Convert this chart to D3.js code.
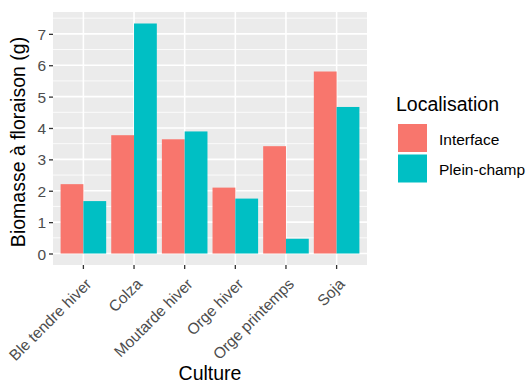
<!DOCTYPE html>
<html><head><meta charset="utf-8">
<script src="https://cdn.jsdelivr.net/npm/d3@7"></script>
<style>body{margin:0;background:#fff}text{font-family:"Liberation Sans",Arial,sans-serif}</style>
</head><body>
<svg id="c" width="532" height="385"></svg>
<script>
const categories = ["Ble tendre hiver","Colza","Moutarde hiver","Orge hiver","Orge printemps","Soja"];
const seriesNames = ["Interface","Plein-champ"];
const interfaceValues = [2.21, 3.77, 3.64, 2.10, 3.42, 5.80];
const pleinChampValues = [1.67, 7.33, 3.89, 1.75, 0.47, 4.67];
const yTicks = [0,1,2,3,4,5,6,7];
const colors = ["#F8766D","#00BFC4"];
const xTitle = "Culture", yTitle = "Biomasse à floraison (g)", legendTitle = "Localisation";

const svg = d3.select("#c");
const L = 53, R = 367, T = 12, B = 265;
const maxV = d3.max(pleinChampValues.concat(interfaceValues));
const pad = maxV*0.05;
const y = d3.scaleLinear().domain([-pad, maxV+pad]).range([B, T]);
const x = d3.scaleBand().domain(categories).range([L, R]).paddingInner(0.1).paddingOuter(0.15);
const xs = d3.scaleBand().domain(seriesNames).range([0, x.bandwidth()]);

svg.append("rect").attr("x",L).attr("y",T).attr("width",R-L).attr("height",B-T).attr("fill","#EBEBEB");
const minor = d3.range(-0.5, maxV+pad, 0.5).filter(v => v % 1 !== 0 && y(v) > T && y(v) < B);
svg.selectAll(".mn").data(minor).join("line").attr("x1",L).attr("x2",R)
  .attr("y1",d=>y(d)).attr("y2",d=>y(d)).attr("stroke","#fff").attr("stroke-width",0.8);
svg.selectAll(".mj").data(yTicks).join("line").attr("x1",L).attr("x2",R)
  .attr("y1",d=>y(d)).attr("y2",d=>y(d)).attr("stroke","#fff").attr("stroke-width",1.6);
svg.selectAll(".vx").data(categories).join("line").attr("y1",T).attr("y2",B)
  .attr("x1",d=>x(d)+x.bandwidth()/2).attr("x2",d=>x(d)+x.bandwidth()/2).attr("stroke","#fff").attr("stroke-width",1.6);

const data = categories.map((c,i)=>({c, vals:[interfaceValues[i], pleinChampValues[i]]}));
const g = svg.append("g");
data.forEach(d=>{
  d.vals.forEach((v,j)=>{
    g.append("rect").attr("x", x(d.c)+xs(seriesNames[j])).attr("width", xs.bandwidth())
      .attr("y", y(v)).attr("height", y(0)-y(v)).attr("fill", colors[j]);
  });
});

// y axis
const ya = svg.append("g").attr("transform",`translate(${L},0)`)
  .call(d3.axisLeft(y).tickValues(yTicks).tickSize(4).tickPadding(3).tickFormat(d3.format("d")));
ya.select(".domain").remove();
ya.selectAll("line").attr("stroke","#333").attr("stroke-width",1.3);
ya.selectAll("text").attr("fill","#4D4D4D").style("font-size","15.5px").attr("dy","0.36em");

// x axis
const xa = svg.append("g").attr("transform",`translate(0,${B})`)
  .call(d3.axisBottom(x).tickSize(4));
xa.select(".domain").remove();
xa.selectAll("line").attr("stroke","#333").attr("stroke-width",1.3);
xa.selectAll("text").attr("fill","#4D4D4D").style("font-size","15.5px")
  .attr("text-anchor","end").attr("dy",0).attr("y",0)
  .attr("transform","translate(9,20) rotate(-45)");

svg.append("text").attr("x",(L+R)/2).attr("y",380).attr("text-anchor","middle")
  .style("font-size","19.5px").attr("fill","#000").text(xTitle);
svg.append("text").attr("transform","translate(25,142) rotate(-90)").attr("text-anchor","middle")
  .style("font-size","19.5px").attr("fill","#000").text(yTitle);

// legend
svg.append("text").attr("x",396).attr("y",111).style("font-size","19.5px").text(legendTitle);
const lg = svg.append("g");
seriesNames.forEach((s,j)=>{
  lg.append("rect").attr("x",398).attr("y",124+j*30.5).attr("width",29).attr("height",28).attr("fill",colors[j]);
  lg.append("text").attr("x",439).attr("y",144.5+j*30.5).style("font-size","15.5px").attr("fill","#000").text(s);
});
</script>
</body></html>
